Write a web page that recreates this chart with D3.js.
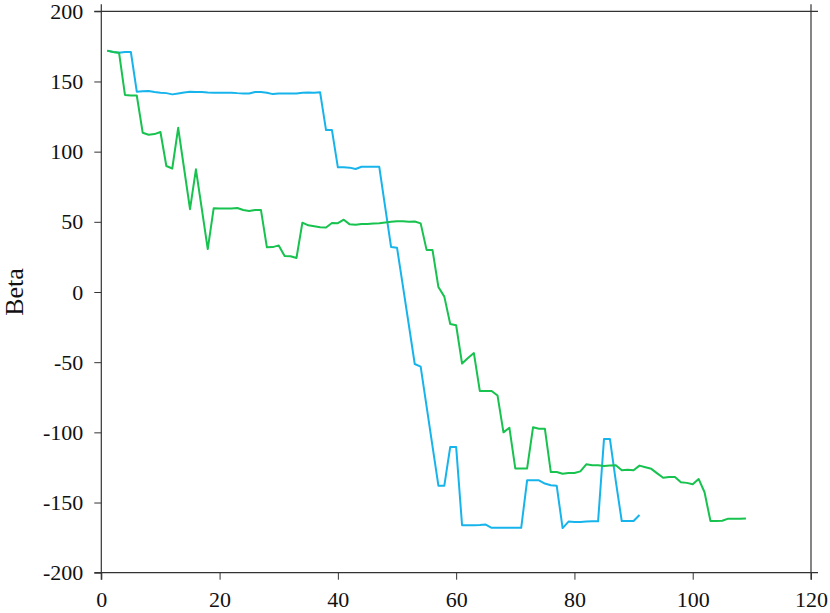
<!DOCTYPE html>
<meta charset="utf-8">

<style type="text/css">
	body { margin: 0; background: #fff; }
	svg { display: block; }
	.axis line { stroke: #333; }
	.frame { stroke: #333; stroke-width: 1.2; }
	.series { fill: none; stroke-width: 2; stroke-linejoin: round; }
</style>

<body>
</body>

<script src="https://d3js.org/d3.v7.min.js"></script>

<script>

	// beta per iteration, first point is iteration 1
	var blueBeta = [172, 171, 170.5, 171, 171, 142.7, 143, 143.2, 142.5, 142,
		141.7, 140.8, 141.5, 142.2, 142.7, 142.5, 142.5, 142.2, 142, 142,
		142, 142, 141.7, 141.5, 141.5, 142.5, 142.5, 142, 141, 141.5,
		141.5, 141.5, 141.5, 142, 142.2, 142, 142.3, 115.4, 115.4, 88.8,
		88.8, 88.6, 87.6, 89.2, 89.2, 89.2, 89.2, 60.5, 32, 31.6,
		4.2, -23.5, -51.3, -53.2, -81.5, -109.8, -138, -138, -110.4, -110.4,
		-166.2, -166.2, -166.2, -166, -165.7, -168, -168, -168, -168, -168,
		-168, -134.2, -134.2, -134.2, -136.5, -137.7, -138, -168.2, -163.6, -163.8,
		-163.8, -163.6, -163.4, -163.4, -104.7, -104.7, -135, -163.2, -163.2, -163.2,
		-158.9];

	var greenBeta = [172, 171, 170.5, 140.4, 140, 140, 113.5, 112, 112.5, 114,
		89.8, 88, 117, 88, 59, 87.4, 59, 30.6, 59.6, 59.5,
		59.5, 59.5, 59.8, 58.4, 57.7, 58.4, 58.4, 31.8, 32, 33.2,
		25.6, 25.5, 24.2, 49.4, 47.5, 46.8, 46.1, 46, 49.2, 49,
		51.5, 48.2, 48, 48.5, 48.5, 48.8, 49, 49.5, 50, 50.4,
		50.4, 50, 50.2, 48.9, 30, 30, 3.5, -3.3, -22.8, -23.7,
		-51, -47, -43.5, -70.5, -70.5, -70.5, -73.8, -100, -96.7, -125.7,
		-125.7, -125.7, -96.4, -97.4, -97.4, -128.2, -128.2, -129.5, -129, -129,
		-127.8, -122.8, -123.5, -123.5, -124, -123.7, -123.4, -127, -126.6, -127,
		-123.7, -124.9, -126, -129.2, -132.3, -131.8, -131.8, -135.6, -136, -137,
		-133.2, -142.7, -163.2, -163.2, -163, -161.5, -161.5, -161.5, -161.3];

	var xTicks = [0, 20, 40, 60, 80, 100, 120];
	var yTicks = [-200, -150, -100, -50, 0, 50, 100, 150, 200];

	var serif = "'Liberation Serif', 'Times New Roman', Times";

	var margin = {top: 11.3, right: 19, bottom: 40.3, left: 101.3};
	var width = 830 - margin.left - margin.right;
	var height = 613 - margin.top - margin.bottom;

	var xScale = d3.scaleLinear()
		.domain([0, 120])
		.range([0, width]);

	var yScale = d3.scaleLinear()
		.domain([-200, 200])
		.range([height, 0]);

	var svg = d3.select("body").append("svg")
		.attr("width", 830)
		.attr("height", 613)
		.append("g")
			.attr("transform", "translate(" + margin.left + "," + margin.top + ")");

	var x_axis = d3.axisBottom(xScale)
		.tickValues(xTicks)
		.tickFormat(function(d) { return String(d); })
		.tickSize(7)
		.tickSizeOuter(0)
		.tickPadding(12);

	var y_axis = d3.axisLeft(yScale)
		.tickValues(yTicks)
		.tickFormat(function(d) { return String(d); })
		.tickSize(7)
		.tickSizeOuter(0)
		.tickPadding(11);

	function styleAxis(g) {
		g.select(".domain").remove();
		g.attr("font-family", serif).attr("font-size", 22);
		g.selectAll("text")
			.style("font-family", serif)
			.style("font-size", "22px")
			.attr("fill", "#111");
	}

	svg.append("g")
		.attr("class", "axis")
		.attr("transform", "translate(0," + height + ")")
		.call(x_axis)
		.call(styleAxis);

	svg.append("g")
		.attr("class", "axis")
		.call(y_axis)
		.call(styleAxis);

	// box around the plot, spines run a little past the corners
	var ext = 7;
	var frame = svg.append("g").attr("class", "frame");
	frame.append("line").attr("x1", -ext).attr("x2", width + ext).attr("y1", 0).attr("y2", 0);
	frame.append("line").attr("x1", -ext).attr("x2", width + ext).attr("y1", height).attr("y2", height);
	frame.append("line").attr("x1", 0).attr("x2", 0).attr("y1", -ext).attr("y2", height + ext);
	frame.append("line").attr("x1", width).attr("x2", width).attr("y1", -ext).attr("y2", height + ext);

	var line = d3.line()
		.x(function(d, i) { return xScale(i + 1); })
		.y(function(d) { return yScale(d); });

	svg.append("path")
		.datum(blueBeta)
		.attr("class", "series")
		.attr("stroke", "#17b4ec")
		.attr("d", line);

	svg.append("path")
		.datum(greenBeta)
		.attr("class", "series")
		.attr("stroke", "#17c24f")
		.attr("d", line);

	svg.append("text")
		.attr("transform", "translate(" + (-margin.left + 23) + "," + (height / 2) + ") rotate(-90)")
		.attr("text-anchor", "middle")
		.style("font-family", serif)
		.style("font-size", "26px")
		.style("fill", "#111")
		.text("Beta");

</script>
